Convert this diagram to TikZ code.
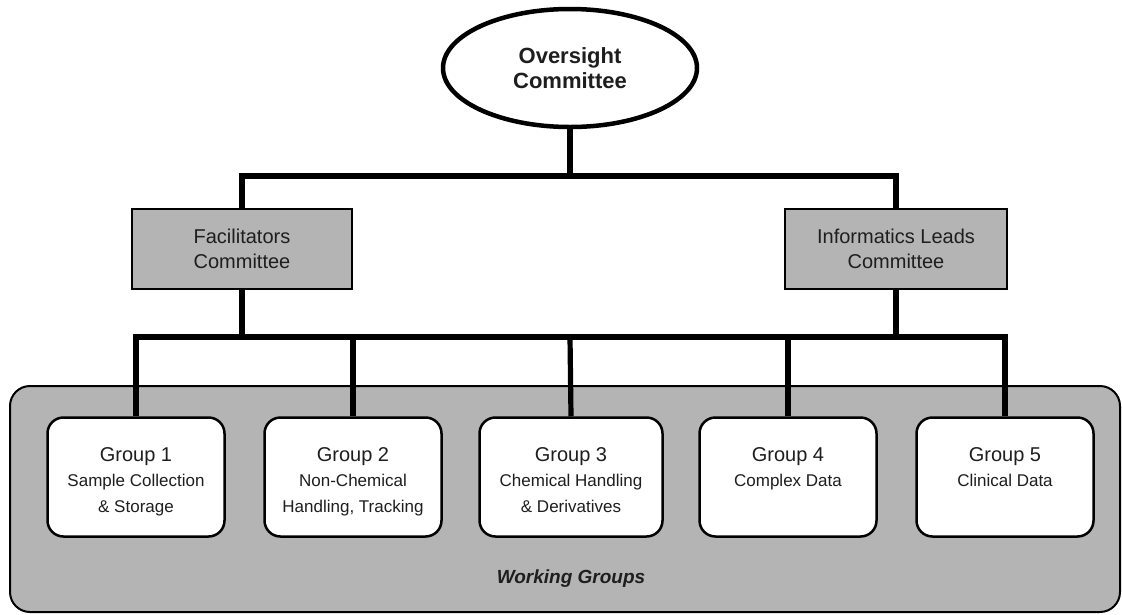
\documentclass[tikz,border=0pt]{standalone}
\usepackage{fontspec}
\setmainfont{Liberation Sans}
\usetikzlibrary{shapes.geometric}
\definecolor{boxgray}{RGB}{180,180,180}
\definecolor{txt}{RGB}{30,30,30}
\tikzset{
  conn/.style={line width=5.2pt, line join=miter},
  comm/.style={draw, line width=2.5pt, fill=boxgray, minimum width=220pt, minimum height=80pt,
    align=center, text=txt, font=\fontsize{20}{25}\selectfont, inner sep=0pt},
  grp/.style={draw, line width=2.5pt, fill=white, rounded corners=16pt, minimum width=177pt, minimum height=119pt, inner sep=0pt},
  gtitle/.style={anchor=base, text=txt, font=\fontsize{20}{24}\selectfont, inner sep=0pt},
  gsub/.style={anchor=base, text=txt, font=\fontsize{17}{20}\selectfont, inner sep=0pt},
}
\begin{document}
\begin{tikzpicture}[x=1pt, y=-1pt]
\useasboundingbox (0,0) rectangle (1122,614);
% outer working-groups panel
\node[draw, line width=2pt, fill=boxgray, rounded corners=20pt, minimum width=1110pt, minimum height=226pt, inner sep=0pt] (wg) at (565,499) {};
\node[anchor=base, text=txt, font=\fontsize{19}{22}\selectfont\bfseries\itshape, inner sep=0pt] (wgl) at (571,583) {Working Groups};
% top
\node[draw, ellipse, line width=4.5pt, fill=white, minimum width=254pt, minimum height=118pt, inner sep=0pt,
  align=center, text=txt, font=\fontsize{22}{24.5}\selectfont\bfseries] (ov) at (570,68) {Oversight\\Committee};
\node[comm] (fac) at (242,249) {Facilitators\\Committee};
\node[comm, minimum width=222pt] (inf) at (896,249) {Informatics Leads\\Committee};
\coordinate (j1) at (570,176);
\coordinate (j2) at (570,337);
% groups
\node[grp] (g1) at (136,477) {};
\node[grp] (g2) at (353,477) {};
\node[grp, minimum width=183pt] (g3) at (571,477) {};
\node[grp] (g4) at (788,477) {};
\node[grp] (g5) at (1005,477) {};
% connectors
\draw[conn] (ov.south) -- (j1);
\draw[conn] (fac.north) |- (j1) -| (inf.north);
\draw[conn] (fac.south) -- (fac.south |- j2);
\draw[conn] (inf.south) -- (inf.south |- j2);
\draw[conn] (g1.north) |- (j2) -| (g5.north);
\draw[conn] (g2.north) -- (g2.north |- j2);
\draw[conn] (g3.north) -- (j2);
\draw[conn] (g4.north) -- (g4.north |- j2);
% group texts
\node[gtitle] (t1) at (136,461) {Group 1};
\node[gsub] (s1a) at (136,486) {Sample Collection};
\node[gsub] (s1b) at (136,512) {\& Storage};
\node[gtitle] (t2) at (353,461) {Group 2};
\node[gsub] (s2a) at (353,486) {Non-Chemical};
\node[gsub] (s2b) at (353,512) {Handling, Tracking};
\node[gtitle] (t3) at (571,461) {Group 3};
\node[gsub] (s3a) at (571,486) {Chemical Handling};
\node[gsub] (s3b) at (571,512) {\& Derivatives};
\node[gtitle] (t4) at (788,461) {Group 4};
\node[gsub] (s4a) at (788,486) {Complex Data};
\node[gtitle] (t5) at (1005,461) {Group 5};
\node[gsub] (s5a) at (1005,486) {Clinical Data};
\end{tikzpicture}
\end{document}
